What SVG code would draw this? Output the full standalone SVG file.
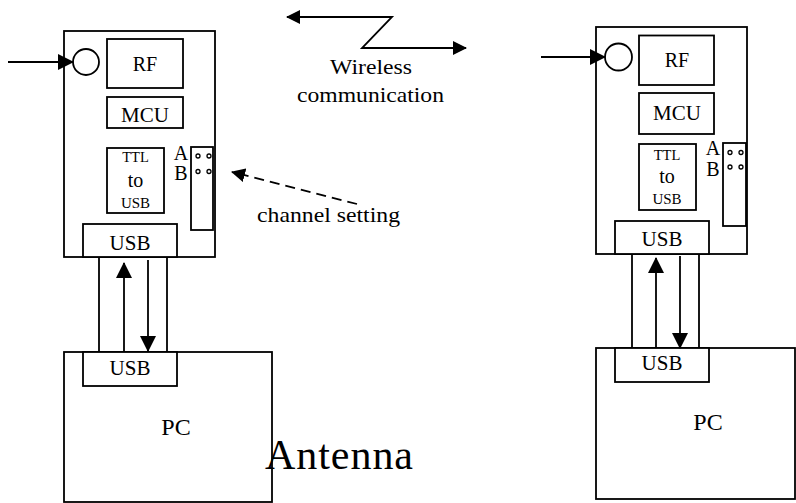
<svg xmlns="http://www.w3.org/2000/svg" width="796" height="503" viewBox="0 0 796 503">
<style>
.b{fill:#fff;stroke:#000;stroke-width:1.8}
.l{fill:none;stroke:#000;stroke-width:1.8}
.t{font-family:"Liberation Serif","Times New Roman",serif;fill:#000;text-anchor:middle}
.d{fill:#fff;stroke:#000;stroke-width:1.3}
</style>
<defs>
<marker id="ah" markerUnits="userSpaceOnUse" markerWidth="16" markerHeight="16" refX="15" refY="8" orient="auto">
<path d="M0,0 L16,8 L0,16 Z" fill="#000"/>
</marker>
<marker id="ahs" markerUnits="userSpaceOnUse" markerWidth="14" markerHeight="14" refX="13" refY="7" orient="auto-start-reverse">
<path d="M0,0 L14,7 L0,14 Z" fill="#000"/>
</marker>
</defs>
<rect width="796" height="503" fill="#fff"/>

<g id="board-left">
<rect class="b" x="64" y="31" width="151" height="226"/>
<circle class="b" cx="86" cy="62" r="13"/>
<rect class="b" x="107" y="39" width="76" height="49"/>
<text class="t" x="145" y="71" font-size="20">RF</text>
<rect class="b" x="107" y="97" width="76" height="31"/>
<text class="t" x="145" y="122" font-size="21">MCU</text>
<rect class="b" x="107" y="148" width="57" height="65"/>
<text class="t" x="135.5" y="162" font-size="14.5">TTL</text>
<text class="t" x="135.5" y="187" font-size="20">to</text>
<text class="t" x="135.5" y="208" font-size="15">USB</text>
<rect class="b" x="191" y="147" width="22" height="83"/>
<circle class="d" cx="198" cy="156" r="2"/>
<circle class="d" cx="209" cy="156" r="2"/>
<circle class="d" cx="198" cy="171.5" r="2"/>
<circle class="d" cx="209" cy="171.5" r="2"/>
<text class="t" x="181" y="160" font-size="20">A</text>
<text class="t" x="181" y="180" font-size="20">B</text>
<rect class="b" x="83" y="224" width="94" height="33"/>
<text class="t" x="130" y="250" font-size="21">USB</text>
</g>

<g id="board-right">
<rect class="b" x="596" y="27" width="151" height="227"/>
<circle class="b" cx="618.5" cy="57" r="13.5"/>
<rect class="b" x="639" y="35.5" width="75" height="49.5"/>
<text class="t" x="677" y="67" font-size="20">RF</text>
<rect class="b" x="639" y="93" width="75" height="41"/>
<text class="t" x="677" y="120" font-size="21">MCU</text>
<rect class="b" x="639" y="144" width="57" height="66"/>
<text class="t" x="667" y="160" font-size="14.5">TTL</text>
<text class="t" x="667" y="183" font-size="20">to</text>
<text class="t" x="667" y="204" font-size="15">USB</text>
<rect class="b" x="723" y="143" width="23" height="83"/>
<circle class="d" cx="730" cy="152.5" r="2"/>
<circle class="d" cx="741" cy="152.5" r="2"/>
<circle class="d" cx="730" cy="167" r="2"/>
<circle class="d" cx="741" cy="167" r="2"/>
<text class="t" x="713" y="155" font-size="20">A</text>
<text class="t" x="713" y="176" font-size="20">B</text>
<rect class="b" x="615" y="221" width="94" height="33"/>
<text class="t" x="662" y="246" font-size="21">USB</text>
</g>

<g id="pc-left">
<rect class="b" x="64" y="352" width="208" height="150"/>
<rect class="b" x="83" y="352" width="94" height="34"/>
<text class="t" x="130" y="375" font-size="21">USB</text>
<text class="t" x="176" y="435" font-size="24">PC</text>
</g>

<g id="pc-right">
<rect class="b" x="596" y="348" width="199" height="151"/>
<rect class="b" x="615" y="348" width="94" height="34"/>
<text class="t" x="662" y="370" font-size="21">USB</text>
<text class="t" x="708" y="430" font-size="24">PC</text>
</g>

<g id="connectors">
<line class="l" x1="8" y1="62" x2="73" y2="62" marker-end="url(#ah)"/>
<line class="l" x1="541" y1="57" x2="605" y2="57" marker-end="url(#ah)"/>
<line class="l" x1="99" y1="257" x2="99" y2="352"/>
<line class="l" x1="167" y1="257" x2="167" y2="352"/>
<line class="l" x1="124" y1="352" x2="124" y2="263" marker-end="url(#ah)"/>
<line class="l" x1="148" y1="260" x2="148" y2="351" marker-end="url(#ah)"/>
<line class="l" x1="632" y1="254" x2="632" y2="348"/>
<line class="l" x1="699" y1="254" x2="699" y2="348"/>
<line class="l" x1="656" y1="348" x2="656" y2="258" marker-end="url(#ah)"/>
<line class="l" x1="680" y1="256" x2="680" y2="348" marker-end="url(#ah)"/>
<polyline class="l" points="287,17 392,17 362,48 466,48" marker-start="url(#ahs)" marker-end="url(#ahs)"/>
<line class="l" x1="357" y1="204" x2="232" y2="172" stroke-dasharray="10,6" marker-end="url(#ahs)"/>
</g>

<text class="t" x="371" y="74" font-size="22" textLength="82" lengthAdjust="spacingAndGlyphs">Wireless</text>
<text class="t" x="370.5" y="102" font-size="22" textLength="147" lengthAdjust="spacingAndGlyphs">communication</text>
<text class="t" x="328.5" y="222" font-size="22" textLength="143" lengthAdjust="spacingAndGlyphs">channel setting</text>
<text x="265" y="469" font-family="Liberation Serif, Times New Roman, serif" font-size="42" textLength="148" lengthAdjust="spacing">Antenna</text>
</svg>
